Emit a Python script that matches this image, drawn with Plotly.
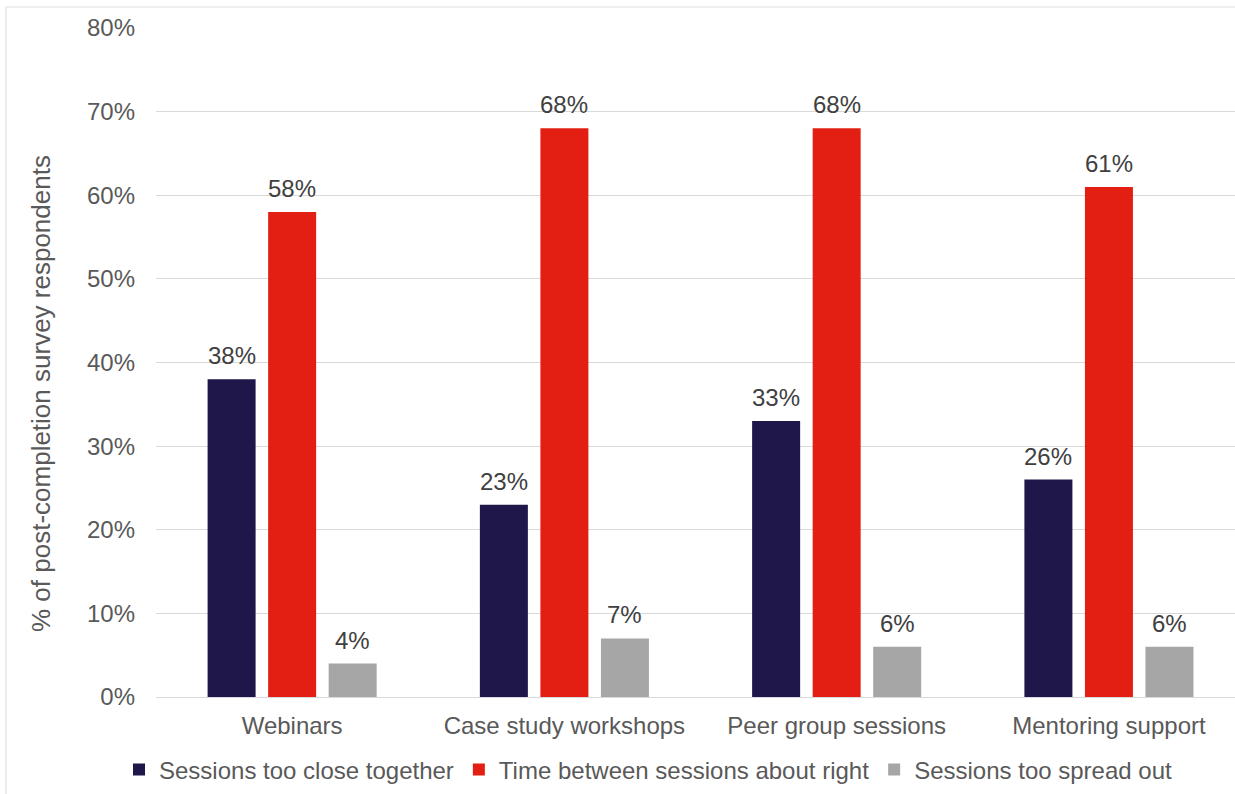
import plotly.graph_objects as go

# Survey results: spacing of sessions by programme element
categories = ["Webinars", "Case study workshops", "Peer group sessions", "Mentoring support"]
too_close = [38, 23, 33, 26]
about_right = [58, 68, 68, 61]
too_spread = [4, 7, 6, 6]

series_names = [
    "Sessions too close together",
    "Time between sessions about right",
    "Sessions too spread out",
]
series_values = [too_close, about_right, too_spread]
series_colors = ["#1f1649", "#e31f14", "#a6a6a6"]

FONT = "Arial, Liberation Sans, sans-serif"
TICK_COLOR = "#595959"
LABEL_COLOR = "#404040"
FS = 24

W, H = 1235, 794
M_L, M_R, M_T, M_B = 156, 0, 28, 97
X_RANGE = [-0.5, 3.463]
BARGAP = 0.333
GROUPGAP = 0.207

fig = go.Figure()
for name, vals, col in zip(series_names, series_values, series_colors):
    fig.add_trace(go.Bar(
        x=categories, y=vals, name=name,
        marker=dict(color=col, line=dict(width=0)),
        hoverinfo="skip",
    ))

# value labels above each bar, shifted sideways to sit over its bar in the group
px_per_unit = (W - M_L - M_R) / (X_RANGE[1] - X_RANGE[0])
slot_px = (1 - BARGAP) / len(series_values) * px_per_unit
annotations = []
for i, vals in enumerate(series_values):
    for cat, v in zip(categories, vals):
        annotations.append(dict(
            x=cat, y=v, xref="x", yref="y",
            text=f"{v}%", showarrow=False,
            xanchor="center", yanchor="bottom",
            xshift=(i - 1) * slot_px, yshift=8,
            font=dict(family=FONT, size=FS, color=LABEL_COLOR),
        ))

plot_w = W - M_L - M_R
plot_h = H - M_T - M_B

# y-axis title
annotations.append(dict(
    text="% of post-completion survey respondents",
    xref="paper", yref="paper",
    x=(41 - M_L) / plot_w, y=(H - M_B - 394) / plot_h,
    xanchor="center", yanchor="middle", textangle=-90, showarrow=False,
    font=dict(family=FONT, size=26, color=TICK_COLOR),
))

frame_left = (6 - M_L) / plot_w
frame_top = (H - M_B - 7) / plot_h

fig.update_layout(
    width=W, height=H,
    margin=dict(l=M_L, r=M_R, t=M_T, b=M_B, pad=0),
    paper_bgcolor="white", plot_bgcolor="white",
    barmode="group", bargap=BARGAP, bargroupgap=GROUPGAP,
    font=dict(family=FONT, size=FS, color=TICK_COLOR),
    showlegend=True,
    legend=dict(
        orientation="h", xanchor="center", yanchor="middle",
        x=(648 - M_L) / plot_w, y=(H - M_B - 770) / plot_h,
        font=dict(family=FONT, size=FS, color=TICK_COLOR),
        itemwidth=30, traceorder="normal", bgcolor="rgba(0,0,0,0)",
    ),
    xaxis=dict(
        range=X_RANGE, showgrid=False, zeroline=False,
        showline=False, ticks="", ticklabelstandoff=12,
        tickfont=dict(family=FONT, size=FS, color=TICK_COLOR),
    ),
    yaxis=dict(
        range=[0, 80], dtick=10, ticksuffix="%",
        showgrid=True, gridcolor="#d9d9d9", gridwidth=1.3,
        zeroline=True, zerolinecolor="#d9d9d9", zerolinewidth=1.3,
        showline=False, ticks="", ticklabelstandoff=20,
        tickfont=dict(family=FONT, size=FS, color=TICK_COLOR),
    ),
    annotations=annotations,
    shapes=[
        dict(type="line", xref="paper", yref="paper",
             x0=frame_left, x1=1.05, y0=frame_top, y1=frame_top,
             line=dict(color="#e0e0e0", width=1.2)),
        dict(type="line", xref="paper", yref="paper",
             x0=frame_left, x1=frame_left, y0=frame_top, y1=-0.3,
             line=dict(color="#e0e0e0", width=1.2)),
    ],
)

fig.write_html("out.html")
